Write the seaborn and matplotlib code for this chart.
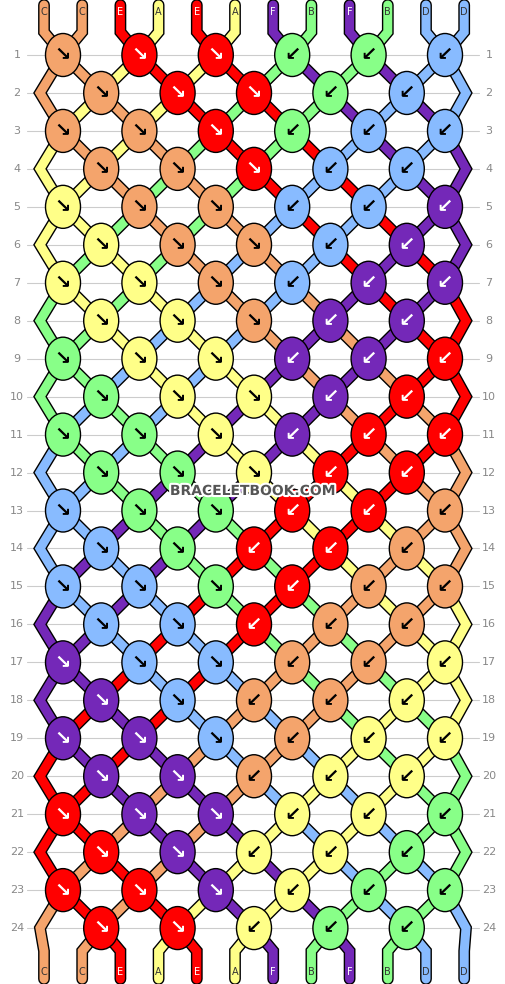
import matplotlib.pyplot as plt
import seaborn as sns
from matplotlib.patches import Ellipse
import matplotlib.patheffects as pe

# string letters from left to right and their colours
string_letters = ["C", "C", "E", "A", "E", "A", "F", "B", "F", "B", "D", "D"]
letter_colors = {
    "A": "#ffff88",
    "B": "#88ff88",
    "C": "#f4a46c",
    "D": "#88bbff",
    "E": "#ff0000",
    "F": "#7428b8",
}
dark_letters = ["E", "F"]
# knot directions per row: f = forward (↘), b = backward (↙)
row_knots = [
    "fffbbb", "fffbb", "fffbbb", "fffbb", "fffbbb", "fffbb",
    "fffbbb", "fffbb", "fffbbb", "fffbb", "fffbbb", "fffbb",
    "fffbbb", "ffbbb", "fffbbb", "ffbbb", "fffbbb", "ffbbb",
    "fffbbb", "ffbbb", "fffbbb", "ffbbb", "fffbbb", "ffbbb",
]

sns.set_style("white")
fig = plt.figure(figsize=(5.06, 9.84), dpi=100)
ax = fig.add_axes([0, 0, 1, 1])
ax.set_xlim(0, 506)
ax.set_ylim(984, 0)
ax.axis("off")

x0, dx = 63, 38.2
y0, dy = 55, 37.96
label_x = [44 + 38.2 * i for i in range(12)]
n_rows = len(row_knots)

# row grid lines and numbers
for r in range(n_rows):
    y = y0 + r * dy
    ax.plot([27, 479], [y, y], color="#cccccc", lw=0.8, zorder=0)
    ax.text(17, y, str(r + 1), ha="center", va="center", fontsize=8, color="#888888")
    ax.text(489, y, str(r + 1), ha="center", va="center", fontsize=8, color="#888888")

# simulate strings through the knots
order = list(range(12))
paths = {s: [(label_x[s], 5), (label_x[s], 32)] for s in range(12)}
knots = []
for r, dirs in enumerate(row_knots):
    y = y0 + r * dy
    start = 0 if r % 2 == 0 else 1
    if start == 1:
        paths[order[0]].append((40, y))
        paths[order[11]].append((466, y))
    new_order = order[:]
    for k, d in enumerate(dirs):
        p = start + 2 * k
        x = x0 + p * dx
        left, right = order[p], order[p + 1]
        paths[left].append((x, y))
        paths[right].append((x, y))
        shown = left if d == "f" else right
        knots.append((x, y, string_letters[shown], d))
        new_order[p], new_order[p + 1] = right, left
    order = new_order

for pos, s in enumerate(order):
    paths[s].append((label_x[pos], 951))
    paths[s].append((label_x[pos], 979))

for s, pts in paths.items():
    xs, ys = zip(*pts)
    col = letter_colors[string_letters[s]]
    ax.plot(xs, ys, color="black", lw=8.5, solid_capstyle="round", solid_joinstyle="miter", zorder=1)
    ax.plot(xs, ys, color=col, lw=6.5, solid_capstyle="round", solid_joinstyle="miter", zorder=2)

for x, y, l, d in knots:
    ax.add_patch(Ellipse((x, y), 35, 43, facecolor=letter_colors[l], edgecolor="black", lw=1, zorder=3))
    ax.text(x, y, "↘" if d == "f" else "↙", ha="center", va="center", fontsize=14,
            fontweight="bold", color="white" if l in dark_letters else "black", zorder=4)

# letters at the ends
for i, l in enumerate(string_letters):
    ax.text(label_x[i], 12, l, ha="center", va="center", fontsize=7,
            color="white" if l in dark_letters else "#333333", zorder=5)
for pos, s in enumerate(order):
    l = string_letters[s]
    ax.text(label_x[pos], 972, l, ha="center", va="center", fontsize=7,
            color="white" if l in dark_letters else "#333333", zorder=5)

ax.text(253, 491, "BRACELETBOOK.COM", ha="center", va="center", fontsize=10,
        fontweight="bold", color="#555555", zorder=6,
        path_effects=[pe.withStroke(linewidth=3, foreground="white")])

fig.savefig("out.png", dpi=100)
